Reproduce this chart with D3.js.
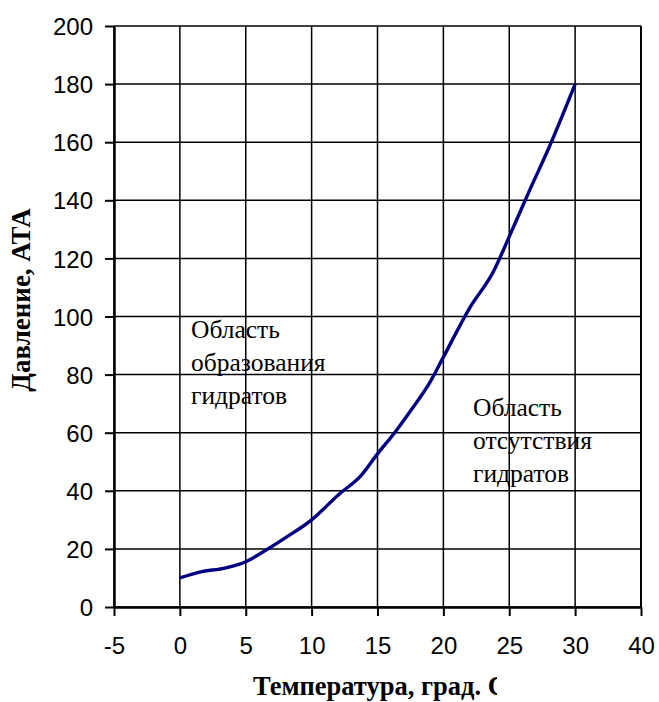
<!DOCTYPE html>
<html>
<head>
<meta charset="utf-8">
<script src="https://cdn.jsdelivr.net/npm/d3@7"></script>
<style>
  body { margin: 0; background: #fff; }
  svg { display: block; }
</style>
</head>
<body>
<svg width="659" height="702"></svg>
<script>
// hydrate formation curve: pressure vs temperature
const temps = [0, 1.5, 3.5, 5, 6.5, 8, 10, 12, 13.8, 15, 16.3, 17.5, 19, 20, 22, 23.8, 25, 26.5, 28, 30];
const pressures = [10, 12, 13.5, 15.6, 19.5, 23.8, 30, 38.5, 45.5, 52.7, 60, 67.5, 77.5, 86, 103, 115.5, 127.5, 143, 158, 180];

// x axis positions and the labels printed under them (last one reads 40)
const xTickValues = [-5, 0, 5, 10, 15, 20, 25, 30, 35];
const xTickLabels = ["-5", "0", "5", "10", "15", "20", "25", "30", "40"];
const yTickValues = [0, 20, 40, 60, 80, 100, 120, 140, 160, 180, 200];

const leftRegion = ["Область", "образования", "гидратов"];
const rightRegion = ["Область", "отсутствия", "гидратов"];

const svg = d3.select("svg");
const plotL = 114, plotR = 641, plotT = 26, plotB = 607;

const x = d3.scaleLinear().domain([-5, 35]).range([plotL, plotR]);
const y = d3.scaleLinear().domain([0, 200]).range([plotB, plotT]);

//grid lines
const grid = svg.append("g");
grid.selectAll("line.v")
  .data(xTickValues)
  .enter()
  .append("line")
  .attr("x1", (d) => x(d))
  .attr("x2", (d) => x(d))
  .attr("y1", plotT)
  .attr("y2", plotB)
  .attr("stroke", "#000")
  .attr("stroke-width", 1.5);
grid.selectAll("line.h")
  .data(yTickValues)
  .enter()
  .append("line")
  .attr("x1", plotL)
  .attr("x2", plotR)
  .attr("y1", (d) => y(d))
  .attr("y2", (d) => y(d))
  .attr("stroke", "#000")
  .attr("stroke-width", 1.5);

// right border a bit heavier
svg.append("line")
  .attr("x1", plotR).attr("x2", plotR)
  .attr("y1", plotT).attr("y2", plotB)
  .attr("stroke", "#000").attr("stroke-width", 2);

//axes
const yAxis = svg.append("g")
  .attr("transform", `translate(${plotL},0)`)
  .call(d3.axisLeft(y).tickValues(yTickValues).tickSize(9).tickSizeOuter(0).tickPadding(12));
const xAxis = svg.append("g")
  .attr("transform", `translate(0,${plotB})`)
  .call(d3.axisBottom(x).tickValues(xTickValues).tickSize(9).tickSizeOuter(0).tickPadding(21)
    .tickFormat((d, i) => xTickLabels[i]));

[xAxis, yAxis].forEach((a) => {
  a.select(".domain").attr("stroke", "#000").attr("stroke-width", 2.5);
  a.selectAll(".tick line").attr("stroke", "#000").attr("stroke-width", 2);
  a.selectAll("text")
    .attr("fill", "#000")
    .attr("font-family", "'Liberation Sans', Arial, sans-serif")
    .attr("font-size", 24);
});
yAxis.selectAll("text").attr("dy", "0.36em");

//curve
const pts = temps.map((t, i) => [t, pressures[i]]);
const line = d3.line()
  .x((d) => x(d[0]))
  .y((d) => y(d[1]))
  .curve(d3.curveMonotoneX);
svg.append("path")
  .datum(pts)
  .attr("d", line)
  .attr("fill", "none")
  .attr("stroke", "#000080")
  .attr("stroke-width", 3.4)
  .attr("stroke-linejoin", "round");

//region labels
const serif = "'Liberation Serif', 'Times New Roman', serif";
function region(lines, px, py) {
  svg.append("g")
    .selectAll("text")
    .data(lines)
    .enter()
    .append("text")
    .attr("x", px)
    .attr("y", (d, i) => py + i * 33)
    .attr("font-family", serif)
    .attr("font-size", 25.5)
    .attr("fill", "#000")
    .text((d) => d);
}
region(leftRegion, 191, 338);
region(rightRegion, 473, 416);

//axis titles (x title is cut off at the right like in the source)
svg.append("clipPath").attr("id", "xclip")
  .append("rect").attr("x", 0).attr("y", 660).attr("width", 497).attr("height", 42);
svg.append("text")
  .attr("clip-path", "url(#xclip)")
  .attr("x", 253)
  .attr("y", 695)
  .attr("font-family", serif)
  .attr("font-weight", "bold")
  .attr("font-size", 26.5)
  .text("Температура, град. С");

svg.append("text")
  .attr("transform", `translate(30,300) rotate(-90)`)
  .attr("text-anchor", "middle")
  .attr("font-family", serif)
  .attr("font-weight", "bold")
  .attr("font-size", 27)
  .text("Давление, АТА");
</script>
</body>
</html>
